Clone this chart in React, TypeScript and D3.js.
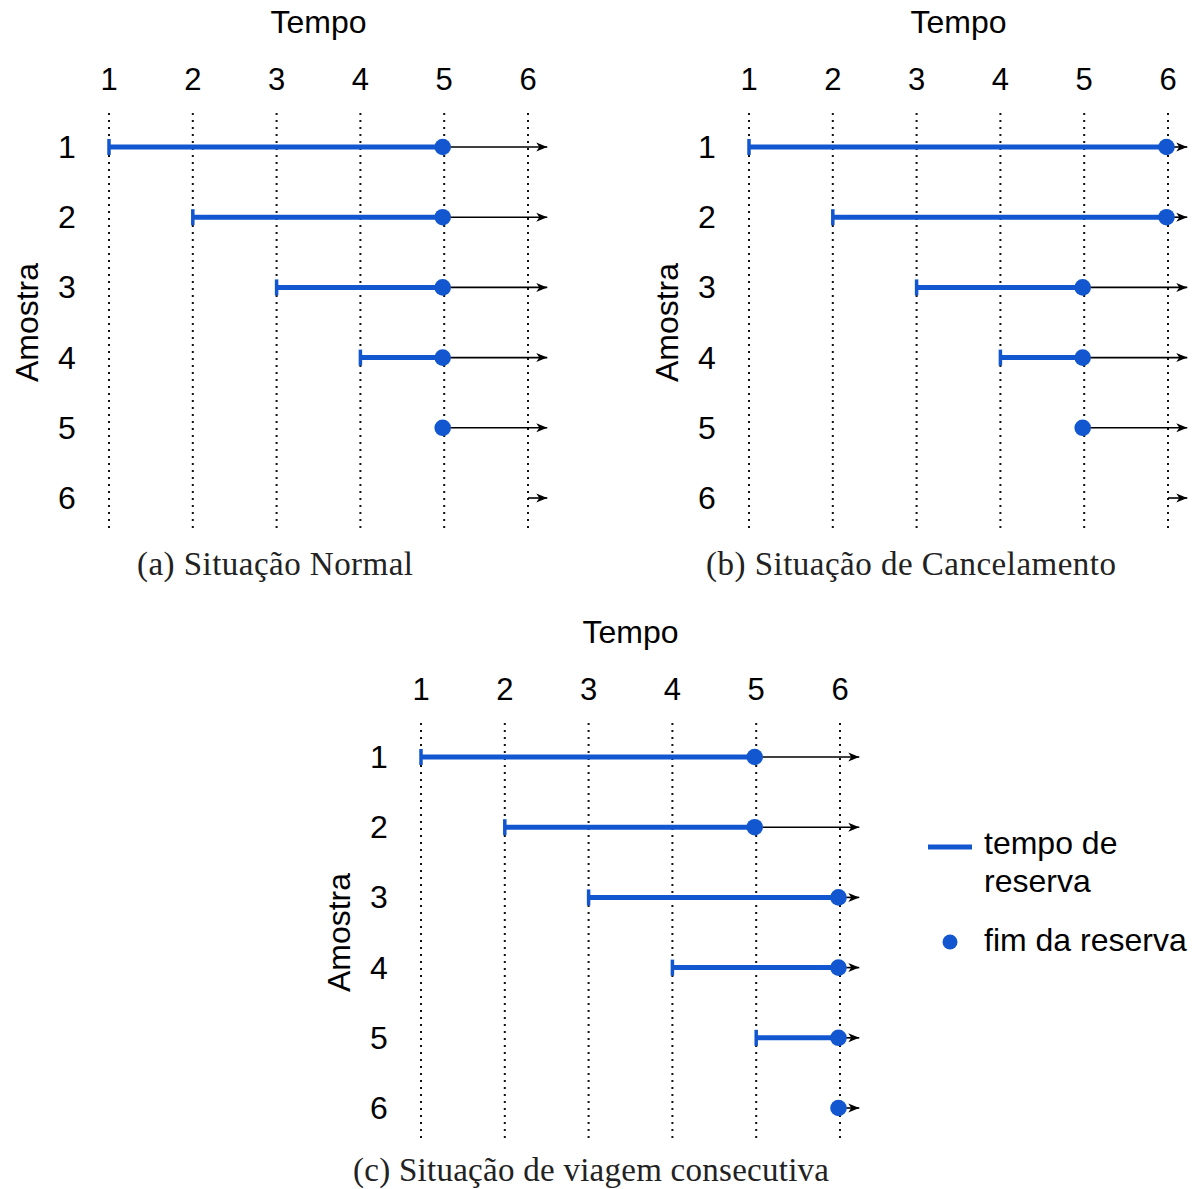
import React from "react";
import * as d3 from "d3";

const timeTicks = [1, 2, 3, 4, 5, 6];
const samples = [1, 2, 3, 4, 5, 6];
const timeEnd = 6.23;

const startsA = [1, 2, 3, 4, 5, 6];
const endsA: (number | null)[] = [5, 5, 5, 5, 5, null];
const startsB = [1, 2, 3, 4, 5, 6];
const endsB: (number | null)[] = [6, 6, 5, 5, 5, null];
const startsC = [1, 2, 3, 4, 5, 6];
const endsC: (number | null)[] = [5, 5, 6, 6, 6, 6];

const captionA = "(a) Situação Normal";
const captionB = "(b) Situação de Cancelamento";
const captionC = "(c) Situação de viagem consecutiva";
const legendLine = ["tempo de", "reserva"];
const legendDot = "fim da reserva";

const BLUE = "#1257cf";
const SANS = "'Liberation Sans', Arial, sans-serif";
const SERIF = "'Liberation Serif', 'Times New Roman', serif";

type PanelProps = {
  ox: number;
  oy: number;
  starts: number[];
  ends: (number | null)[];
  caption: string;
  captionDx: number;
  captionDy: number;
  captionLen: number;
  id: string;
};

function Panel({ ox, oy, starts, ends, caption, captionDx, captionDy, captionLen, id }: PanelProps) {
  const x = d3.scaleLinear().domain([1, 6]).range([ox, ox + 419]);
  const y = d3.scaleLinear().domain([1, 6]).range([oy, oy + 351]);
  const markerId = `arrow-${id}`;
  return (
    <g>
      <defs>
        <marker
          id={markerId}
          viewBox="0 -5 12 10"
          refX={11}
          refY={0}
          markerWidth={12}
          markerHeight={10}
          markerUnits="userSpaceOnUse"
          orient="auto"
        >
          <path d="M0,-4.5 L11,0 L0,4.5 L3,0 Z" fill="#000" />
        </marker>
      </defs>
      <text x={(x(1) + x(6)) / 2} y={oy - 114} textAnchor="middle" fontFamily={SANS} fontSize={32}>
        Tempo
      </text>
      {timeTicks.map((t) => (
        <text key={`t${t}`} x={x(t)} y={oy - 57} textAnchor="middle" fontFamily={SANS} fontSize={31}>
          {t}
        </text>
      ))}
      {timeTicks.map((t) => (
        <line
          key={`g${t}`}
          x1={x(t)}
          x2={x(t)}
          y1={oy - 34}
          y2={oy + 384}
          stroke="#111"
          strokeWidth={2}
          strokeDasharray="2 5"
        />
      ))}
      <text
        transform={`translate(${x(1) - 71},${(y(1) + y(6)) / 2}) rotate(-90)`}
        textAnchor="middle"
        fontFamily={SANS}
        fontSize={32}
      >
        Amostra
      </text>
      {samples.map((s, i) => {
        const st = starts[i];
        const en = ends[i];
        const arrowFrom = en === null ? st : en;
        return (
          <g key={`r${s}`}>
            <text x={x(1) - 42} y={y(s) + 11} textAnchor="middle" fontFamily={SANS} fontSize={32}>
              {s}
            </text>
            <line
              x1={x(arrowFrom)}
              x2={x(timeEnd)}
              y1={y(s)}
              y2={y(s)}
              stroke="#000"
              strokeWidth={1.6}
              markerEnd={`url(#${markerId})`}
            />
            {en !== null && en > st && (
              <line x1={x(st)} x2={x(en)} y1={y(s)} y2={y(s)} stroke={BLUE} strokeWidth={5} />
            )}
            {en !== null && en > st && (
              <line x1={x(st)} x2={x(st)} y1={y(s) - 8} y2={y(s) + 8} stroke={BLUE} strokeWidth={3.5} />
            )}
            {en !== null && <circle cx={x(en) - 1.5} cy={y(s)} r={8.3} fill={BLUE} />}
          </g>
        );
      })}
      <text
        x={x(1) + captionDx}
        y={oy + captionDy}
        textAnchor="middle"
        fontFamily={SERIF}
        fontSize={33}
        fill="#222"
        textLength={captionLen}
        lengthAdjust="spacing"
      >
        {caption}
      </text>
    </g>
  );
}

export default function App() {
  return (
    <svg width={1200} height={1189} style={{ display: "block", position: "absolute", left: 0, top: 0 }}>
      <rect width={1200} height={1189} fill="#fff" />
      <Panel ox={109} oy={147} starts={startsA} ends={endsA} caption={captionA} captionDx={166} captionDy={428} captionLen={276} id="a" />
      <Panel ox={749} oy={147} starts={startsB} ends={endsB} caption={captionB} captionDx={162} captionDy={428} captionLen={410} id="b" />
      <Panel ox={421} oy={757} starts={startsC} ends={endsC} caption={captionC} captionDx={170} captionDy={424} captionLen={476} id="c" />
      <g fontFamily={SANS} fontSize={32}>
        <line x1={928} x2={972} y1={847} y2={847} stroke={BLUE} strokeWidth={5} />
        <text x={984} y={854}>{legendLine[0]}</text>
        <text x={984} y={892}>{legendLine[1]}</text>
        <circle cx={950} cy={942} r={7.5} fill={BLUE} />
        <text x={984} y={951}>{legendDot}</text>
      </g>
    </svg>
  );
}
